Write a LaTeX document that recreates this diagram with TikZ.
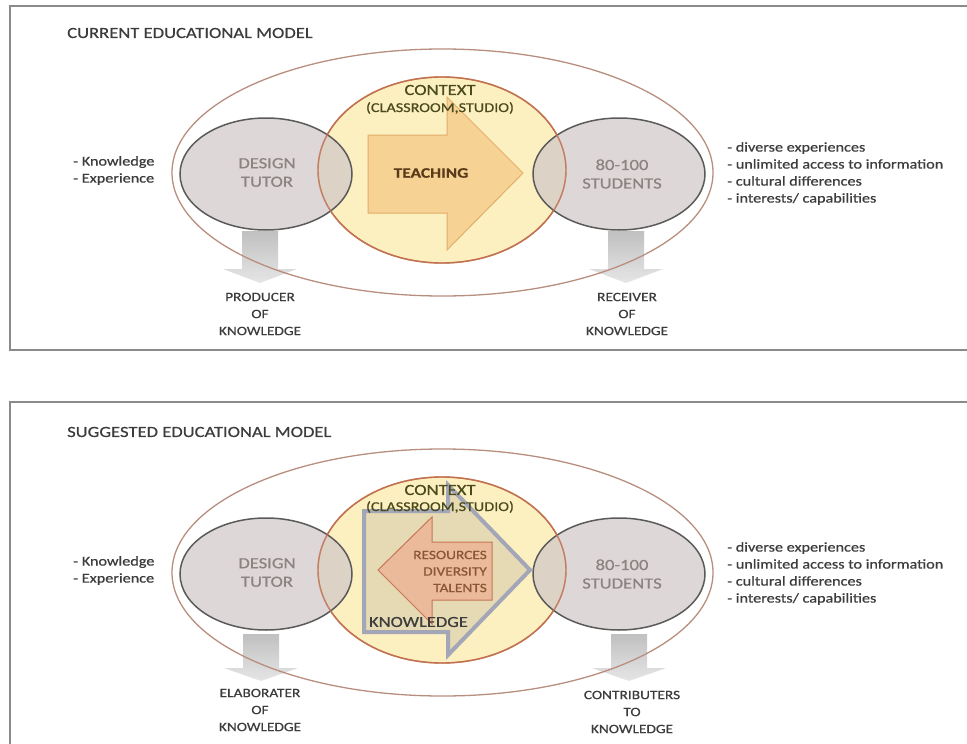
\documentclass[tikz,border=0pt]{standalone}
\usepackage{fontspec}
\setmainfont{Carlito}[FakeStretch=1.2, FakeBold=0.6]
\usetikzlibrary{shapes.geometric}
\definecolor{framec}{HTML}{8A8A8A}
\definecolor{outerc}{HTML}{B88E7E}
\definecolor{ctxfill}{HTML}{FCEFC0}
\definecolor{ctxdraw}{HTML}{C2714F}
\definecolor{personfill}{HTML}{D3C9C9}
\definecolor{persondraw}{HTML}{5A5A5A}
\definecolor{teachfill}{HTML}{F7CD8E}
\definecolor{teachdraw}{HTML}{E2AE68}
\definecolor{txtc}{HTML}{3C3C3C}
\definecolor{persontxt}{HTML}{8C8282}
\definecolor{ctxtxt}{HTML}{4A4A1C}
\definecolor{teachtxt}{HTML}{5A3A18}
\definecolor{kgray}{HTML}{A2A6B6}
\definecolor{salmon}{HTML}{EDB597}
\definecolor{salmondraw}{HTML}{C77656}
\definecolor{restxt}{HTML}{8A5634}
\tikzset{
  panelframe/.style={draw=framec, line width=1.6},
  outerell/.style={ellipse, draw=outerc, line width=1.3, minimum width=541, minimum height=247, inner sep=0},
  ctxell/.style={ellipse, fill=ctxfill, draw=ctxdraw, line width=1.4, minimum width=248, minimum height=186, inner sep=0},
  ctxline/.style={ellipse, draw=ctxdraw, draw opacity=.8, line width=1.4, minimum width=248, minimum height=186, inner sep=0},
  personell/.style={ellipse, fill=personfill, fill opacity=.75, draw=persondraw, line width=1.5, minimum width=172, minimum height=112, inner sep=0},
  downarrow/.style={top color=gray!55, bottom color=gray!22, opacity=.9},
  titletxt/.style={text=txtc, font=\fontsize{15.5}{18}\selectfont, inner sep=0, anchor=west},
  listtxt/.style={text=txtc, font=\fontsize{13.5}{17}\selectfont, align=left, inner sep=0, anchor=west},
  persontext/.style={text=persontxt, font=\fontsize{15.5}{18.5}\selectfont, align=center, inner sep=0},
  ctxtitle/.style={text=ctxtxt, font=\fontsize{15.5}{18}\selectfont, inner sep=0},
  ctxsub/.style={text=ctxtxt, font=\fontsize{13.5}{16}\selectfont, inner sep=0},
  roletxt/.style={text=txtc, font=\fontsize{12.8}{17}\selectfont, align=center, inner sep=0},
}
\begin{document}
\begin{tikzpicture}[x=1pt,y=-1pt]
\useasboundingbox (0,0) rectangle (967,744);

%%%%%%%%%%%%%%%% TOP PANEL
\draw[panelframe] (967,6) -- (10,6) -- (10,350) -- (967,350);
\node[titletxt] (t1) at (67,33) {CURRENT EDUCATIONAL MODEL};

\shade[downarrow] (242,231) -- (278,231) -- (278,269) -- (297,269) -- (260,283) -- (223,269) -- (242,269) -- cycle;
\shade[downarrow] (608,231) -- (644,231) -- (644,269) -- (663,269) -- (626,283) -- (589,269) -- (608,269) -- cycle;

\node[outerell] (outer1) at (442.5,172.5) {};
\node[ctxell] (ctx1) at (442,170) {};
\node[personell] (tutor1) at (266,174) {};
\node[personell] (stud1) at (619,174) {};
\node[ctxline] (ctxl1) at (442,170) {};

\filldraw[fill=teachfill, fill opacity=.85, draw=teachdraw, line width=1]
  (368,135) -- (447,135) -- (447,97) -- (523,173) -- (447,250) -- (447,213) -- (368,213) -- cycle;

\node[ctxtitle] (ctxt1) at (440,90) {CONTEXT};
\node[ctxsub] (ctxs1) at (440,108) {(CLASSROOM,STUDIO)};
\node[text=teachtxt, font=\bfseries\fontsize{14.5}{17}\selectfont, inner sep=0] (teach) at (431,173) {TEACHING};
\node[persontext] (tutt1) at (267,172.5) {DESIGN\\TUTOR};
\node[persontext] (stut1) at (622,174) {80-100\\STUDENTS};
\node[listtxt] (kl1) at (73,170.5) {- Knowledge\\- Experience};
\node[listtxt] (sl1) at (727,173.5) {- diverse experiences\\- unlimited access to information\\- cultural differences\\- interests/ capabilities};
\node[roletxt] (r1) at (260,314) {PRODUCER\\OF\\KNOWLEDGE};
\node[roletxt] (r2) at (627,314) {RECEIVER\\OF\\KNOWLEDGE};

%%%%%%%%%%%%%%%% BOTTOM PANEL
\draw[panelframe] (967,402) -- (10,402) -- (10,744);
\node[titletxt] (t2) at (67,432) {SUGGESTED EDUCATIONAL MODEL};

\shade[downarrow] (243,634) -- (279,634) -- (279,668) -- (298,668) -- (261,681) -- (224,668) -- (243,668) -- cycle;
\shade[downarrow] (611,634) -- (647,634) -- (647,668) -- (666,668) -- (629,681) -- (592,668) -- (611,668) -- cycle;

\node[outerell] (outer2) at (442.5,572.5) {};
\node[ctxell] (ctx2) at (442,570) {};
\node[personell] (tutor2) at (266,574) {};
\node[personell] (stud2) at (619,574) {};
\node[ctxline] (ctxl2) at (442,570) {};

% knowledge (grey outlined block arrow)
\filldraw[fill=gray, fill opacity=.18, draw=kgray, line width=4, line join=miter]
  (364,511) -- (448,511) -- (448,485) -- (530,570) -- (448,655) -- (448,632) -- (364,632) -- cycle;
% resources (salmon left arrow)
\filldraw[fill=salmon, fill opacity=.85, draw=salmondraw, line width=1]
  (492,542) -- (432,542) -- (432,517) -- (378,570) -- (432,624) -- (432,600) -- (492,600) -- cycle;

\node[ctxtitle] (ctxt2) at (440,490) {CONTEXT};
\node[ctxsub] (ctxs2) at (440,507) {(CLASSROOM,STUDIO)};
\node[text=restxt, font=\fontsize{12.8}{16.5}\selectfont, align=right, inner sep=0, anchor=east] (res) at (487,571.5) {RESOURCES\\DIVERSITY\\TALENTS};
\node[text=txtc, font=\fontsize{15.4}{18}\selectfont, inner sep=0] (know) at (418.5,622) {KNOWLEDGE};
\node[persontext] (tutt2) at (267,572.5) {DESIGN\\TUTOR};
\node[persontext] (stut2) at (622,574) {80-100\\STUDENTS};
\node[listtxt] (kl2) at (73,570.5) {- Knowledge\\- Experience};
\node[listtxt] (sl2) at (727,573.5) {- diverse experiences\\- unlimited access to information\\- cultural differences\\- interests/ capabilities};
\node[roletxt] (r3) at (260,710) {ELABORATER\\OF\\KNOWLEDGE};
\node[roletxt] (r4) at (632,712) {CONTRIBUTERS\\TO\\KNOWLEDGE};
\end{tikzpicture}
\end{document}
